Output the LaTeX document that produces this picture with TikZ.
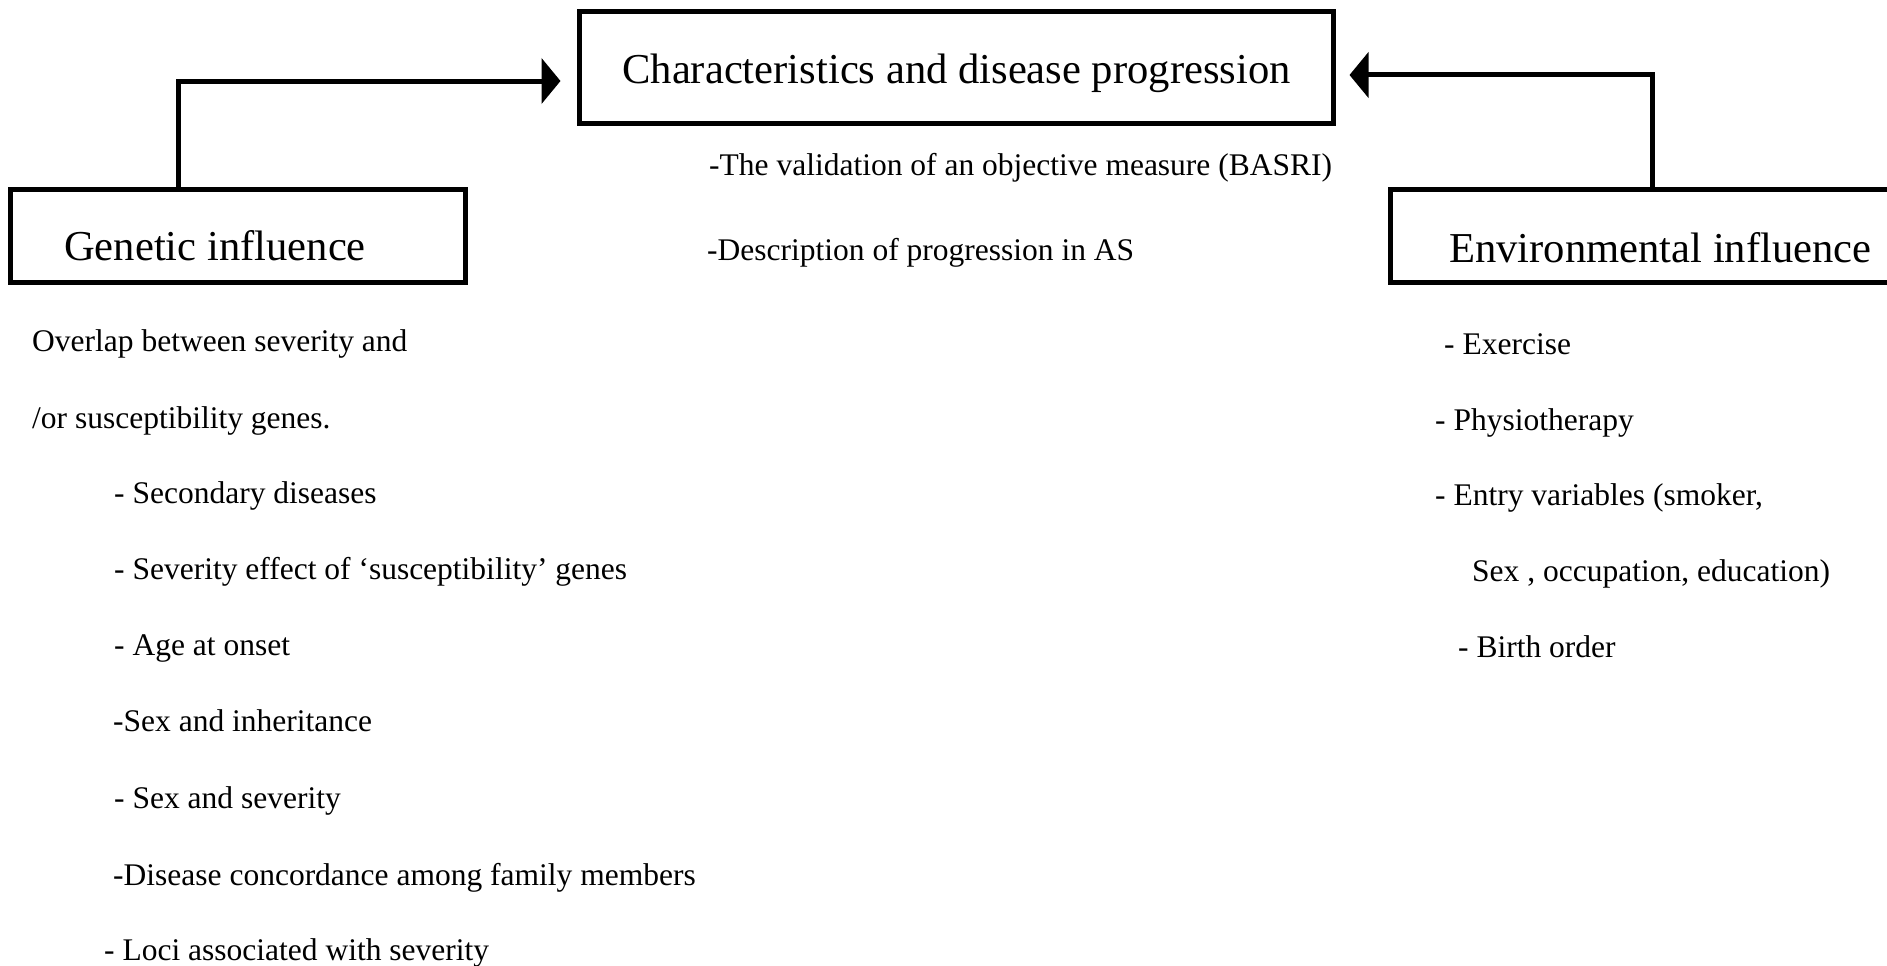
\documentclass[tikz,border=0pt]{standalone}
\usepackage{fontspec}
\setmainfont{Liberation Serif}
\usetikzlibrary{arrows.meta}

\tikzset{
  frame/.style={draw=black, line width=5pt, inner sep=0pt, outer sep=0pt},
  headtext/.style={font=\fontsize{42.6}{50}\selectfont, inner sep=0pt, anchor=base west},
  itemtext/.style={font=\fontsize{31.5}{38}\selectfont, inner sep=0pt, anchor=base west},
  feed/.style={line width=5pt, -{Triangle[length=19pt, width=45pt]}}
}

\begin{document}
\begin{tikzpicture}[x=1pt, y=-1pt]
  \useasboundingbox (0,0) rectangle (1887,966);

  % central outcome box
  \node[frame, minimum width=754pt, minimum height=111pt,
        font=\fontsize{42.6}{50}\selectfont, text height=31pt, text depth=0pt]
        (char) at (956.5,67.5) {Characteristics and disease progression};

  % side boxes (the right one runs past the page edge)
  \node[frame, minimum width=455pt, minimum height=93pt] (gen) at (237.5,235.5) {};
  \node[frame, minimum width=512pt, minimum height=93pt] (env) at (1646,235.5) {};
  \node[headtext] (genlabel) at (64,260) {Genetic influence};
  \node[headtext] (envlabel) at (1449,262) {Environmental influence};

  % elbow connectors into the central box
  \coordinate (gbend) at (178,81);
  \coordinate (ebend) at (1652,75);
  \draw[feed, shorten >=19pt] (gen.north -| gbend) |- (char.west |- gbend);
  \draw[feed, shorten >=16pt] (env.north -| ebend) |- (char.east |- ebend);

  % notes under the central box
  \node[itemtext] (c1) at (709,175) {-The validation of an objective measure (BASRI)};
  \node[itemtext] (c2) at (707,260) {-Description of progression in AS};

  % genetic factors
  \node[itemtext] (g1) at (32,351) {Overlap between severity and};
  \node[itemtext] (g2) at (32,428) {/or susceptibility genes.};
  \node[itemtext] (g3) at (114,503) {- Secondary diseases};
  \node[itemtext] (g4) at (114,579) {- Severity effect of ‘susceptibility’ genes};
  \node[itemtext] (g5) at (114,655) {- Age at onset};
  \node[itemtext] (g6) at (113,731) {-Sex and inheritance};
  \node[itemtext] (g7) at (114,808) {- Sex and severity};
  \node[itemtext] (g8) at (113,885) {-Disease concordance among family members};
  \node[itemtext] (g9) at (104,960) {- Loci associated with severity};

  % environmental factors
  \node[itemtext] (e1) at (1444,354) {- Exercise};
  \node[itemtext] (e2) at (1435,430) {- Physiotherapy};
  \node[itemtext] (e3) at (1435,505) {- Entry variables (smoker,};
  \node[itemtext] (e4) at (1472,581) {Sex , occupation, education)};
  \node[itemtext] (e5) at (1458,657) {- Birth order};
\end{tikzpicture}
\end{document}
